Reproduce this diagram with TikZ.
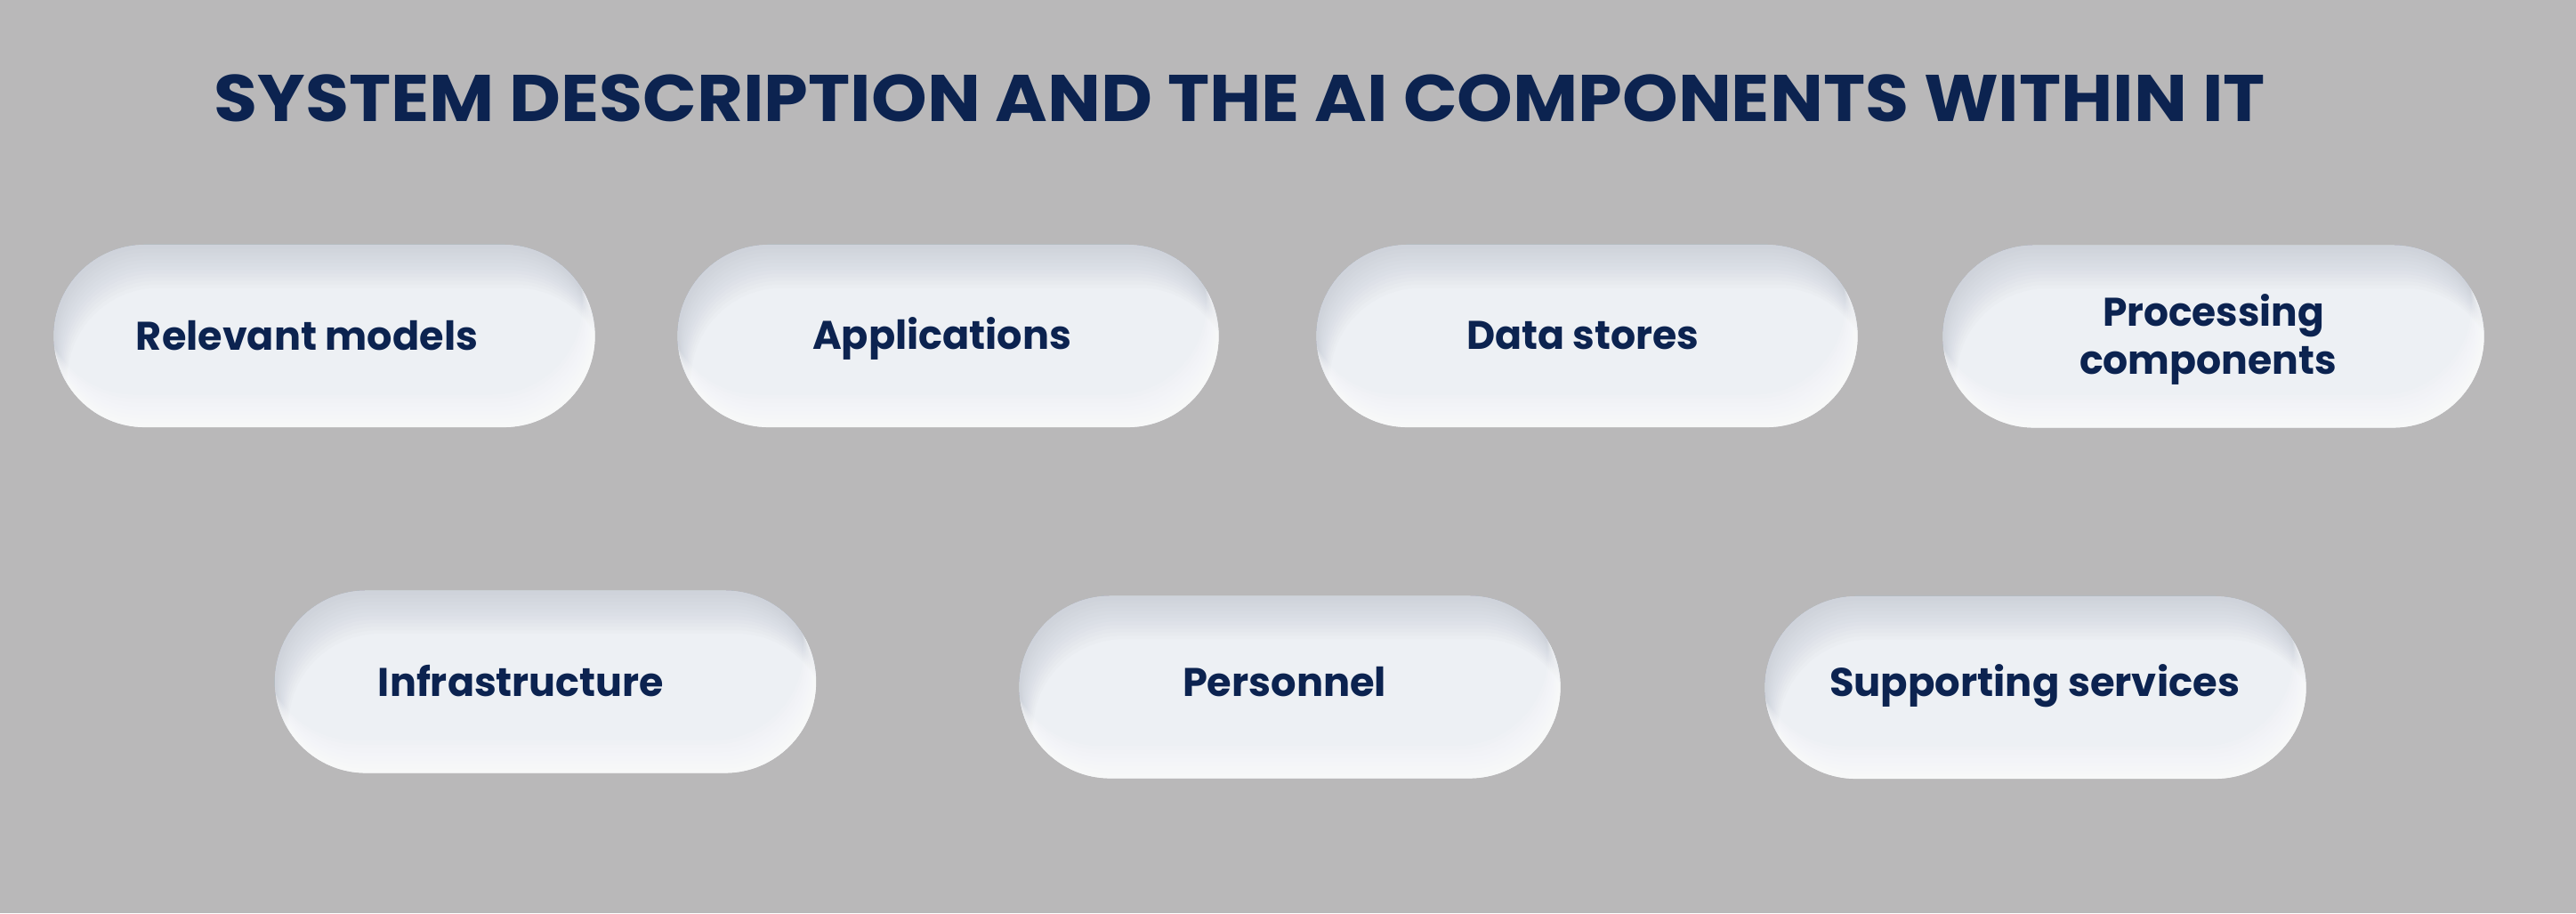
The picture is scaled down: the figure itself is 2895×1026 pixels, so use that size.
\documentclass[tikz,border=0pt]{standalone}
\usepackage{fontspec}
\setmainfont{Poppins}
\usetikzlibrary{shapes.misc}
\definecolor{bg}{HTML}{B9B8B9}
\definecolor{navy}{HTML}{0C2350}
\definecolor{pillbase}{HTML}{EDF0F4}
\definecolor{pillshade}{HTML}{B4BBC9}
\newlength\pxu
\setlength\pxu{0.01cm}
% width, cap height, text
\newcommand\fittext[3]{\resizebox{#1\pxu}{#2\pxu}{\bfseries\vphantom{I}\smash{#3}}}
\newcommand\pillpath[2]{[rounded corners=1.02cm] ([shift={(-303+#1,-102+#2)}]path picture bounding box.center) rectangle ([shift={(303+#1,102+#2)}]path picture bounding box.center)}
\newcommand\bigbox{([shift={(-450,-250)}]path picture bounding box.center) rectangle ([shift={(450,250)}]path picture bounding box.center)}
\tikzset{
  pill/.style={rounded rectangle, fill=pillbase, draw=none, inner sep=0pt,
    minimum width=6.08cm, minimum height=2.05cm,
    path picture={
      \foreach \k in {1,...,12}{
        \fill[pillshade, opacity=0.05, even odd rule] \bigbox \pillpath{1.2*\k}{4*\k};
      }
      \foreach \k in {1,...,8}{
        \fill[white, opacity=0.13, even odd rule] \bigbox \pillpath{-1.6*\k}{-4.5*\k};
      }
    }},
  lbl/.style={anchor=base, inner sep=0pt, text=navy},
  ttl/.style={anchor=base west, inner sep=0pt, text=navy}
}
\begin{document}
\begin{tikzpicture}[x=0.01cm, y=-0.01cm]
\fill[bg] (0,0) rectangle (2895,1026);
\useasboundingbox (0,0) rectangle (2895,1026);
\node[ttl] (title) at (240,136) {\fittext{2305}{52}{SYSTEM DESCRIPTION AND THE AI COMPONENTS WITHIN IT}};
% pills
\node[pill] (p1) at (364.5,377.5) {};
\node[pill] (p2) at (1065.5,377.5) {};
\node[pill] (p3) at (1783.5,377.5) {};
\node[pill] (p4) at (2487.5,378) {};
\node[pill] (p5) at (613,766) {};
\node[pill] (p6) at (1449.5,772) {};
\node[pill] (p7) at (2287.5,772.5) {};
% labels
\node[lbl] (l1) at (345,393) {\fittext{384}{31.5}{Relevant models}};
\node[lbl] (l2) at (1058.5,392) {\fittext{291}{31.5}{Applications}};
\node[lbl] (l3) at (1778.5,392) {\fittext{261}{31.5}{Data stores}};
\node[lbl] (l4a) at (2487.5,366) {\fittext{249}{31.5}{Processing}};
\node[lbl] (l4b) at (2481.5,420) {\fittext{289}{31.5}{components}};
\node[lbl] (l5) at (585.5,782) {\fittext{321}{31.5}{Infrastructure}};
\node[lbl] (l6) at (1443.5,782) {\fittext{229}{31.5}{Personnel}};
\node[lbl] (l7) at (2286.5,782) {\fittext{461}{31.5}{Supporting services}};
\end{tikzpicture}
\end{document}
